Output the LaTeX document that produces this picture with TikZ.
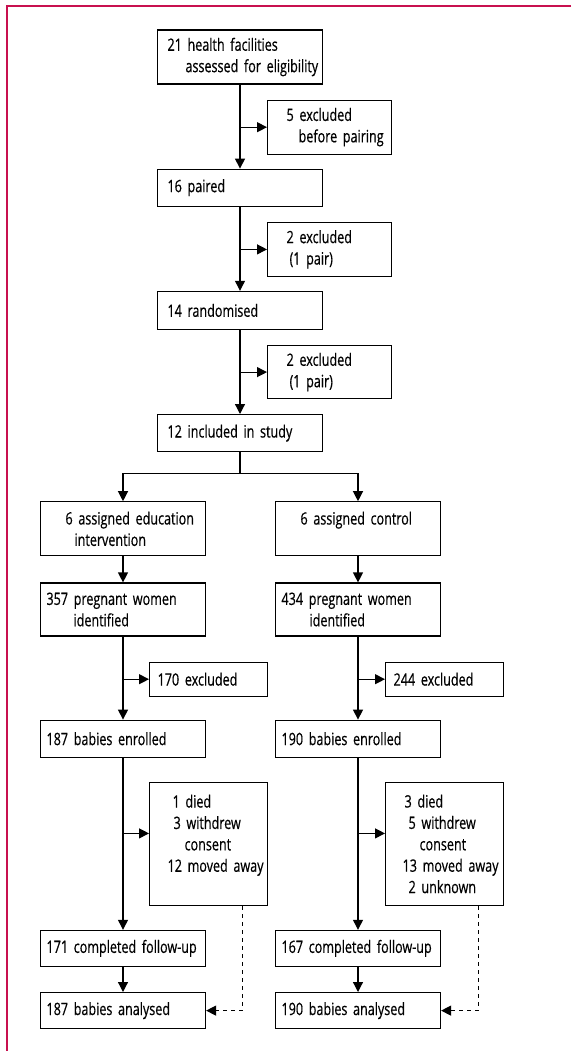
\documentclass[tikz,border=0pt]{standalone}
\usepackage{fontspec}
\setmainfont[FakeStretch=0.74, FakeBold=0.5]{Open Sans}
\usetikzlibrary{arrows.meta, positioning}
\definecolor{rahmen}{HTML}{C8104F}
\newcommand{\ind}[1]{\hspace*{#1pt}}

\begin{document}
\begin{tikzpicture}[x=1pt, y=1pt,
      font=\fontsize{17}{21.4}\selectfont,
      box/.style={draw, line width=1.2pt, inner xsep=0pt, inner ysep=0pt,
                  align=left, text width=165pt, minimum height=37pt},
      excl/.style={box, text width=124pt},
      lost/.style={box, text width=118pt},
      arrow/.style={-{Triangle[length=10pt, width=10pt]}, line width=1.2pt},
      dashline/.style={arrow, dash pattern=on 4pt off 4pt} ]

    \useasboundingbox (0,0) rectangle (571,-1051);
    \draw[rahmen, line width=1.5pt] (571,-6) -- (7,-6) -- (7,-1051);

    % screening of facilities
    \node[box, minimum height=54pt] (facil) at (240,-57)
      {\ind{10}21 health facilities\\\ind{28}assessed for eligibility};
    \node[excl, minimum height=54pt, below=15pt of facil.south, anchor=north west,
          xshift=27pt] (excl1) {\ind{19}5 excluded\\\ind{31}before pairing};
    \node[box, below=84pt of facil] (paired) {\ind{10}16 paired};
    \node[excl, minimum height=54pt, below=15pt of paired.south, anchor=north west,
          xshift=27pt] (excl2) {\ind{19}2 excluded\\\ind{22}(1 pair)};
    \node[box, minimum height=38pt, below=84pt of paired] (rand) {\ind{10}14 randomised};
    \node[excl, minimum height=53pt, below=15pt of rand.south, anchor=north west,
          xshift=27pt] (excl3) {\ind{19}2 excluded\\\ind{22}(1 pair)};
    \node[box, below=84pt of rand] (incl) {\ind{10}12 included in study};
    \coordinate[below=21pt of incl.south] (split);

    % education arm
    \node[box, minimum height=54pt, below=49pt of incl.south, anchor=north,
          xshift=-117pt] (edu) {\ind{25}6 assigned education\\\ind{34}intervention};
    \node[box, minimum height=53pt, below=26pt of edu] (pregE)
      {\ind{6}357 pregnant women\\\ind{33}identified};
    \node[lost, minimum height=34pt, below=25pt of pregE.south, anchor=north west,
          xshift=26pt] (exclE) {\ind{8}170 excluded};
    \node[box, below=83pt of pregE] (enrE) {\ind{6}187 babies enrolled};
    \node[lost, minimum height=123pt, below=24pt of enrE.south, anchor=north west,
          xshift=26pt] (lossE)
      {\ind{23}1 died\\\ind{24}3 withdrew\\\ind{35}consent\\\ind{18}12 moved away\\\mbox{}};
    \node[box, minimum height=36pt, below=172pt of enrE] (compE) {\ind{6}171 completed follow-up};
    \node[box, minimum height=36pt, below=25pt of compE] (anaE) {\ind{6}187 babies analysed};

    % control arm
    \node[box, minimum height=54pt, below=49pt of incl.south, anchor=north,
          xshift=118pt] (ctrl) {\ind{25}6 assigned control\\\mbox{}};
    \node[box, minimum height=53pt, below=26pt of ctrl] (pregC)
      {\ind{6}434 pregnant women\\\ind{34}identified};
    \node[lost, minimum height=34pt, below=25pt of pregC.south, anchor=north west,
          xshift=27pt] (exclC) {\ind{8}244 excluded};
    \node[box, below=83pt of pregC] (enrC) {\ind{6}190 babies enrolled};
    \node[lost, minimum height=123pt, below=24pt of enrC.south, anchor=north west,
          xshift=27pt] (lossC)
      {\ind{19}3 died\\\ind{23}5 withdrew\\\ind{34}consent\\\ind{17}13 moved away\\\ind{23}2 unknown};
    \node[box, minimum height=36pt, below=172pt of enrC] (compC) {\ind{6}167 completed follow-up};
    \node[box, minimum height=36pt, below=25pt of compC] (anaC) {\ind{6}190 babies analysed};

    \coordinate (inE) at ([yshift=10.5pt]lossE.west);
    \coordinate (inC) at ([yshift=10.5pt]lossC.west);

    \draw[arrow] (facil) -- (paired);
    \draw[arrow] (facil.south |- excl1.west) -- (excl1.west);
    \draw[arrow] (paired) -- (rand);
    \draw[arrow] (paired.south |- excl2.west) -- (excl2.west);
    \draw[arrow] (rand) -- (incl);
    \draw[arrow] (rand.south |- excl3.west) -- (excl3.west);
    \draw[line width=1.2pt] (incl) -- (split);
    \draw[arrow] (split) -| (edu);
    \draw[arrow] (split) -| (ctrl);

    \draw[arrow] (edu) -- (pregE);
    \draw[arrow] (pregE) -- (enrE);
    \draw[arrow] (pregE.south |- exclE.west) -- (exclE.west);
    \draw[arrow] (enrE) -- (compE);
    \draw[arrow] (enrE.south |- inE) -- (inE);
    \draw[arrow] (compE) -- (anaE);
    \draw[dashline] ([xshift=-26pt]lossE.south east) |- (anaE);

    \draw[arrow] (ctrl) -- (pregC);
    \draw[arrow] (pregC) -- (enrC);
    \draw[arrow] (pregC.south |- exclC.west) -- (exclC.west);
    \draw[arrow] (enrC) -- (compC);
    \draw[arrow] (enrC.south |- inC) -- (inC);
    \draw[arrow] (compC) -- (anaC);
    \draw[dashline] ([xshift=-26pt]lossC.south east) |- (anaC);
  \end{tikzpicture}
\end{document}
